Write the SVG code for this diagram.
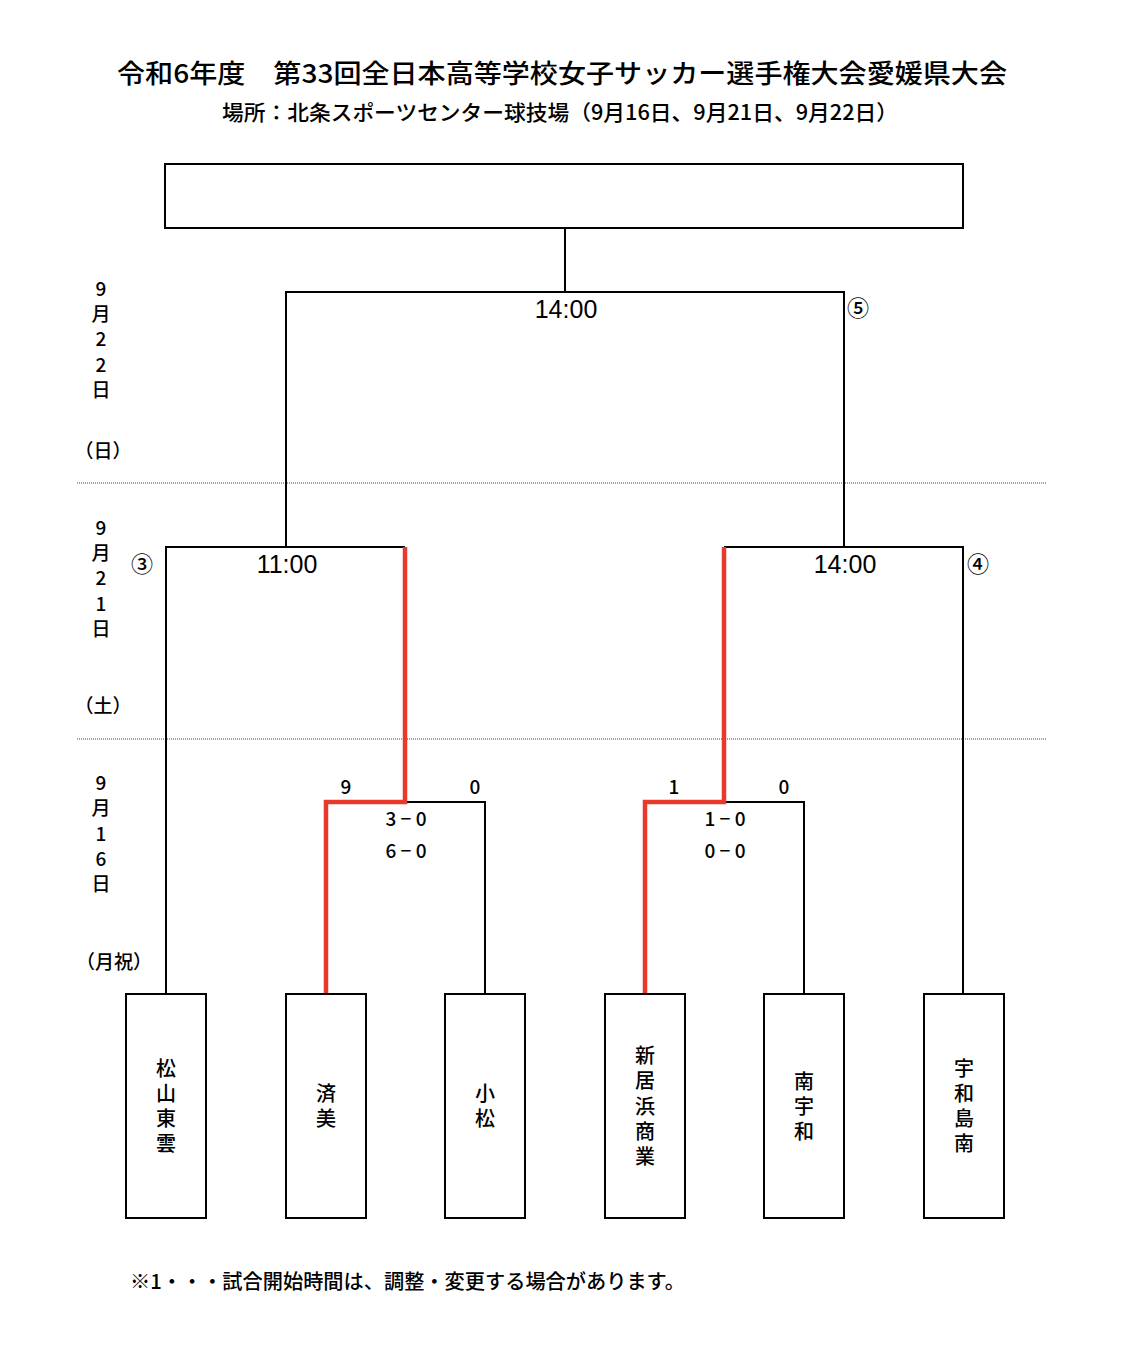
<svg xmlns="http://www.w3.org/2000/svg" width="1140" height="1356" viewBox="0 0 1140 1356">
<style>
text{font-family:"Noto Sans CJK JP","Liberation Sans",sans-serif;fill:#000;font-weight:500}
.t{font-size:26px}
.st{font-size:21px}
.d{font-size:19px;text-anchor:middle}
.tm{font-family:"Liberation Sans","Noto Sans CJK JP",sans-serif;font-size:25px;text-anchor:middle}
.c{font-size:22px;text-anchor:middle}
.s{font-size:19px;text-anchor:middle}
.n{font-size:20px;text-anchor:middle}
.box{fill:#fff;stroke:#000;stroke-width:2}
.ln{fill:none;stroke:#000;stroke-width:2}
.win{fill:none;stroke:#e8392b;stroke-width:4.5}
.sep{stroke:#444;stroke-width:1.2;stroke-dasharray:1 1}
</style>
<rect width="1140" height="1356" fill="#fff"/>
<g id="title">
<text class="t" x="117" y="83" textLength="890" lengthAdjust="spacingAndGlyphs">令和6年度　第33回全日本高等学校女子サッカー選手権大会愛媛県大会</text>
<text class="st" x="222" y="120" textLength="676" lengthAdjust="spacingAndGlyphs">場所：北条スポーツセンター球技場（9月16日、9月21日、9月22日）</text>
</g>
<g id="separators">
<line class="sep" x1="77" y1="483" x2="1046" y2="483"/>
<line class="sep" x1="77" y1="739" x2="1046" y2="739"/>
</g>
<g id="dates">
<text class="d" x="101" y="296">9</text><text class="d" x="101" y="321">月</text><text class="d" x="101" y="346">2</text><text class="d" x="101" y="372">2</text><text class="d" x="101" y="397">日</text>
<text class="d" x="103" y="458">（日）</text>
<text class="d" x="101" y="535">9</text><text class="d" x="101" y="560">月</text><text class="d" x="101" y="585">2</text><text class="d" x="101" y="611">1</text><text class="d" x="101" y="636">日</text>
<text class="d" x="103" y="713">（土）</text>
<text class="d" x="101" y="790">9</text><text class="d" x="101" y="815">月</text><text class="d" x="101" y="841">1</text><text class="d" x="101" y="866">6</text><text class="d" x="101" y="891">日</text>
<text class="d" x="114" y="969">（月祝）</text>
</g>
<g id="connectors">
<line class="ln" x1="565" y1="228" x2="565" y2="292"/>
<polyline class="ln" points="286,547 286,292 844,292 844,547"/>
<polyline class="ln" points="166,994 166,547 405,547"/>
<polyline class="ln" points="724,547 963,547 963,994"/>
<polyline class="ln" points="405,802 485,802 485,994"/>
<polyline class="ln" points="724,802 804,802 804,994"/>
<polyline class="win" points="326,994 326,802 405,802 405,547"/>
<polyline class="win" points="645,994 645,802 724,802 724,547"/>
</g>
<g id="final">
<rect class="box" x="165" y="164" width="798" height="64"/>
</g>
<g id="match-labels">
<text class="tm" x="566" y="318">14:00</text>
<text class="c" x="858" y="316">⑤</text>
<text class="tm" x="287" y="573">11:00</text>
<text class="c" x="142" y="572">③</text>
<text class="tm" x="845" y="573">14:00</text>
<text class="c" x="978" y="572">④</text>
<text class="s" x="346" y="794">9</text>
<text class="s" x="475" y="794">0</text>
<text class="s" x="406" y="826">3 − 0</text>
<text class="s" x="406" y="858">6 − 0</text>
<text class="s" x="674" y="794">1</text>
<text class="s" x="784" y="794">0</text>
<text class="s" x="725" y="826">1 − 0</text>
<text class="s" x="725" y="858">0 − 0</text>
</g>
<g id="team-matsuyama-shinonome">
<rect class="box" x="126" y="994" width="80" height="224"/>
<text class="n" x="166" y="1076">松</text><text class="n" x="166" y="1101">山</text><text class="n" x="166" y="1126">東</text><text class="n" x="166" y="1151">雲</text>
</g>
<g id="team-saibi">
<rect class="box" x="286" y="994" width="80" height="224"/>
<text class="n" x="326" y="1101">済</text><text class="n" x="326" y="1126">美</text>
</g>
<g id="team-komatsu">
<rect class="box" x="445" y="994" width="80" height="224"/>
<text class="n" x="485" y="1101">小</text><text class="n" x="485" y="1126">松</text>
</g>
<g id="team-niihama-shogyo">
<rect class="box" x="605" y="994" width="80" height="224"/>
<text class="n" x="645" y="1063">新</text><text class="n" x="645" y="1088">居</text><text class="n" x="645" y="1114">浜</text><text class="n" x="645" y="1139">商</text><text class="n" x="645" y="1164">業</text>
</g>
<g id="team-minami-uwa">
<rect class="box" x="764" y="994" width="80" height="224"/>
<text class="n" x="804" y="1089">南</text><text class="n" x="804" y="1114">宇</text><text class="n" x="804" y="1139">和</text>
</g>
<g id="team-uwajima-minami">
<rect class="box" x="924" y="994" width="80" height="224"/>
<text class="n" x="964" y="1076">宇</text><text class="n" x="964" y="1101">和</text><text class="n" x="964" y="1126">島</text><text class="n" x="964" y="1151">南</text>
</g>
<g id="note">
<text x="130" y="1289" style="font-size:20px" textLength="555" lengthAdjust="spacingAndGlyphs">※1・・・試合開始時間は、調整・変更する場合があります。</text>
</g>
</svg>
